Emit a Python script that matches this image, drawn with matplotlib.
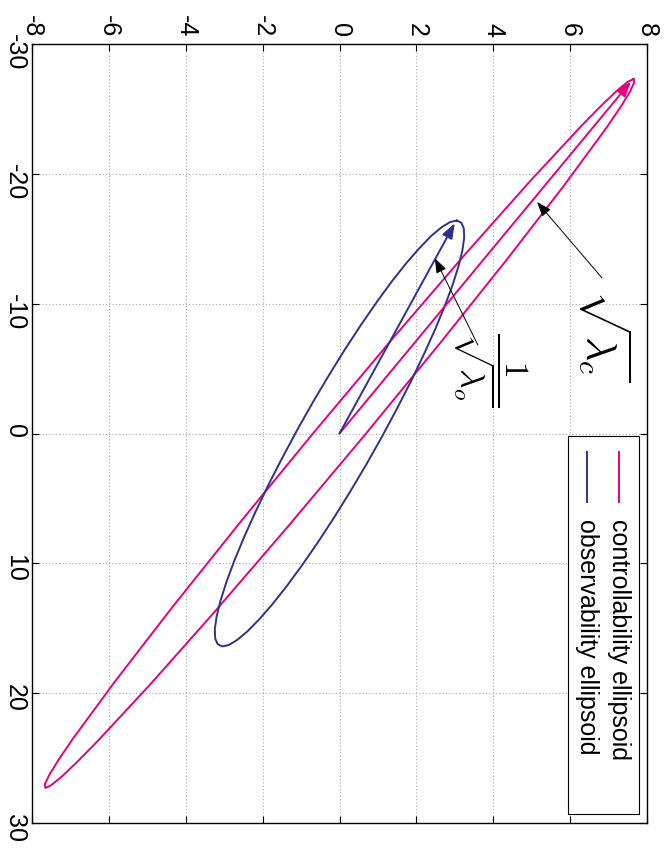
import matplotlib
matplotlib.use("Agg")
import matplotlib.pyplot as plt
from matplotlib.patches import Rectangle, FancyArrowPatch
from matplotlib.lines import Line2D

plt.rcParams['font.family'] = ['Liberation Sans', 'DejaVu Sans']
plt.rcParams['mathtext.fontset'] = 'cm'
plt.rcParams['axes.unicode_minus'] = False

# outline points (x, y) of the two ellipses
ctrl_x = [-27.3, -27.04, -26.32, -25.15, -23.55, -19.18, -13.49, -6.89, 0.18, 7.24, 13.81, 19.43,
          23.73, 25.29, 26.42, 27.09, 27.3, 27.04, 26.32, 25.15, 23.55, 19.18, 13.49, 6.89,
          -0.18, -7.24, -13.81, -19.43, -23.73, -25.29, -26.42, -27.09, -27.3]
ctrl_y = [7.65, 7.669, 7.555, 7.313, 6.945, 5.862, 4.379, 2.598, 0.64, -1.362, -3.271, -4.956,
          -6.305, -6.823, -7.223, -7.501, -7.65, -7.669, -7.555, -7.313, -6.945, -5.862, -4.379, -2.598,
          -0.64, 1.362, 3.271, 4.956, 6.305, 6.823, 7.223, 7.501, 7.65]

obs_x = [-16.4, -16.23, -15.79, -15.07, -14.10, -12.89, -11.45, -9.82, -8.02, -6.09, -4.04, -1.94,
         0.207, 2.35, 4.44, 6.47, 8.38, 10.15, 11.75, 13.14, 14.30, 15.23, 15.89, 16.29,
         16.4, 16.23, 15.79, 15.07, 14.10, 12.89, 11.45, 9.82, 8.02, 6.09, 4.04, 1.94,
         -0.207, -2.35, -4.44, -6.47, -8.38, -10.15, -11.75, -13.14, -14.30, -15.23, -15.89, -16.29,
         -16.4]
obs_y = [3.05, 3.169, 3.234, 3.244, 3.197, 3.097, 2.943, 2.739, 2.488, 2.194, 1.863, 1.500,
         1.112, 0.704, 0.285, -0.140, -0.562, -0.975, -1.371, -1.743, -2.085, -2.392, -2.658, -2.879,
         -3.05, -3.169, -3.234, -3.244, -3.197, -3.097, -2.943, -2.739, -2.488, -2.194, -1.863, -1.500,
         -1.112, -0.704, -0.285, 0.140, 0.562, 0.975, 1.371, 1.743, 2.085, 2.392, 2.658, 2.879,
         3.05]

# principal axis vectors drawn from the origin (x, y)
ctrl_axis = (-27.1, 7.58)
obs_axis = (-16.2, 3.0)

x_ticks = [-30, -20, -10, 0, 10, 20, 30]
y_ticks = [-8, -6, -4, -2, 0, 2, 4, 6, 8]
labels = ['controllability ellipsoid', 'observability ellipsoid']

magenta = '#e6007e'
blue = '#2e3192'

W, H = 668, 856
fig = plt.figure(figsize=(W / 100, H / 100), dpi=100)
ax = fig.add_axes([32 / W, 1 - 823 / H, 615 / W, 779 / H])

def fx(px):
    return px / W

def fy(py):
    return 1 - py / H

# whole chart is turned a quarter turn: x runs down the page, y to the right
ax.plot(ctrl_y, ctrl_x, color=magenta, lw=1.4, zorder=3)
ax.plot(obs_y, obs_x, color=blue, lw=1.4, zorder=3)

for vec, col in [(ctrl_axis, magenta), (obs_axis, blue)]:
    ax.add_patch(FancyArrowPatch((0, 0), (vec[1], vec[0]),
                                 arrowstyle='-|>,head_length=0.6,head_width=0.22',
                                 mutation_scale=15, color=col, lw=1.4,
                                 shrinkA=0, shrinkB=0, zorder=3))

ax.set_xlim(-8, 8)
ax.set_ylim(30, -30)
ax.xaxis.tick_top()
ax.set_xticks(y_ticks)
ax.set_yticks(x_ticks)
ax.tick_params(which='both', direction='in', top=True, bottom=True, left=True, right=True,
               labeltop=True, labelbottom=False, length=5, width=0.8,
               labelsize=18, labelrotation=-90, colors='black')
ax.tick_params(axis='x', pad=5)
ax.tick_params(axis='y', pad=3.5)
ax.grid(True, linestyle=(0, (1, 2)), color='#a8a8a8', lw=0.8)
for s in ax.spines.values():
    s.set_linewidth(1.0)

# pointer arrows and labels
ax.annotate('', xy=(5.14, -17.83), xytext=(6.83, -11.98),
            arrowprops=dict(arrowstyle='-|>,head_length=0.6,head_width=0.22', color='black',
                            lw=0.7, shrinkA=0, shrinkB=0, mutation_scale=15), zorder=4)
ax.annotate('', xy=(2.48, -13.5), xytext=(3.60, -6.82),
            arrowprops=dict(arrowstyle='-|>,head_length=0.6,head_width=0.22', color='black',
                            lw=0.7, shrinkA=0, shrinkB=0, mutation_scale=15), zorder=4)
fig.text(fx(605), fy(335), r'$\sqrt{\lambda_c}$', fontsize=30, rotation=-90,
         ha='center', va='center')
fig.text(fx(490), fy(369), r'$\dfrac{1}{\sqrt{\lambda_o}}$', fontsize=24, rotation=-90,
         ha='center', va='center')

# legend drawn by hand so it can be turned with the chart
ax.add_patch(Rectangle((fx(568), fy(814)), 71 / W, 378 / H, transform=fig.transFigure,
                       facecolor='white', edgecolor='black', lw=0.8, zorder=5, clip_on=False))
for px, col, lab in [(619, magenta, labels[0]), (587, blue, labels[1])]:
    ax.add_line(Line2D([fx(px), fx(px)], [fy(452), fy(502)], transform=fig.transFigure,
                       color=col, lw=1.4, zorder=6, clip_on=False))
    fig.text(fx(px), fy(519), lab, fontsize=18, rotation=-90, ha='center', va='top', zorder=6)

fig.savefig('out.png', dpi=100)
